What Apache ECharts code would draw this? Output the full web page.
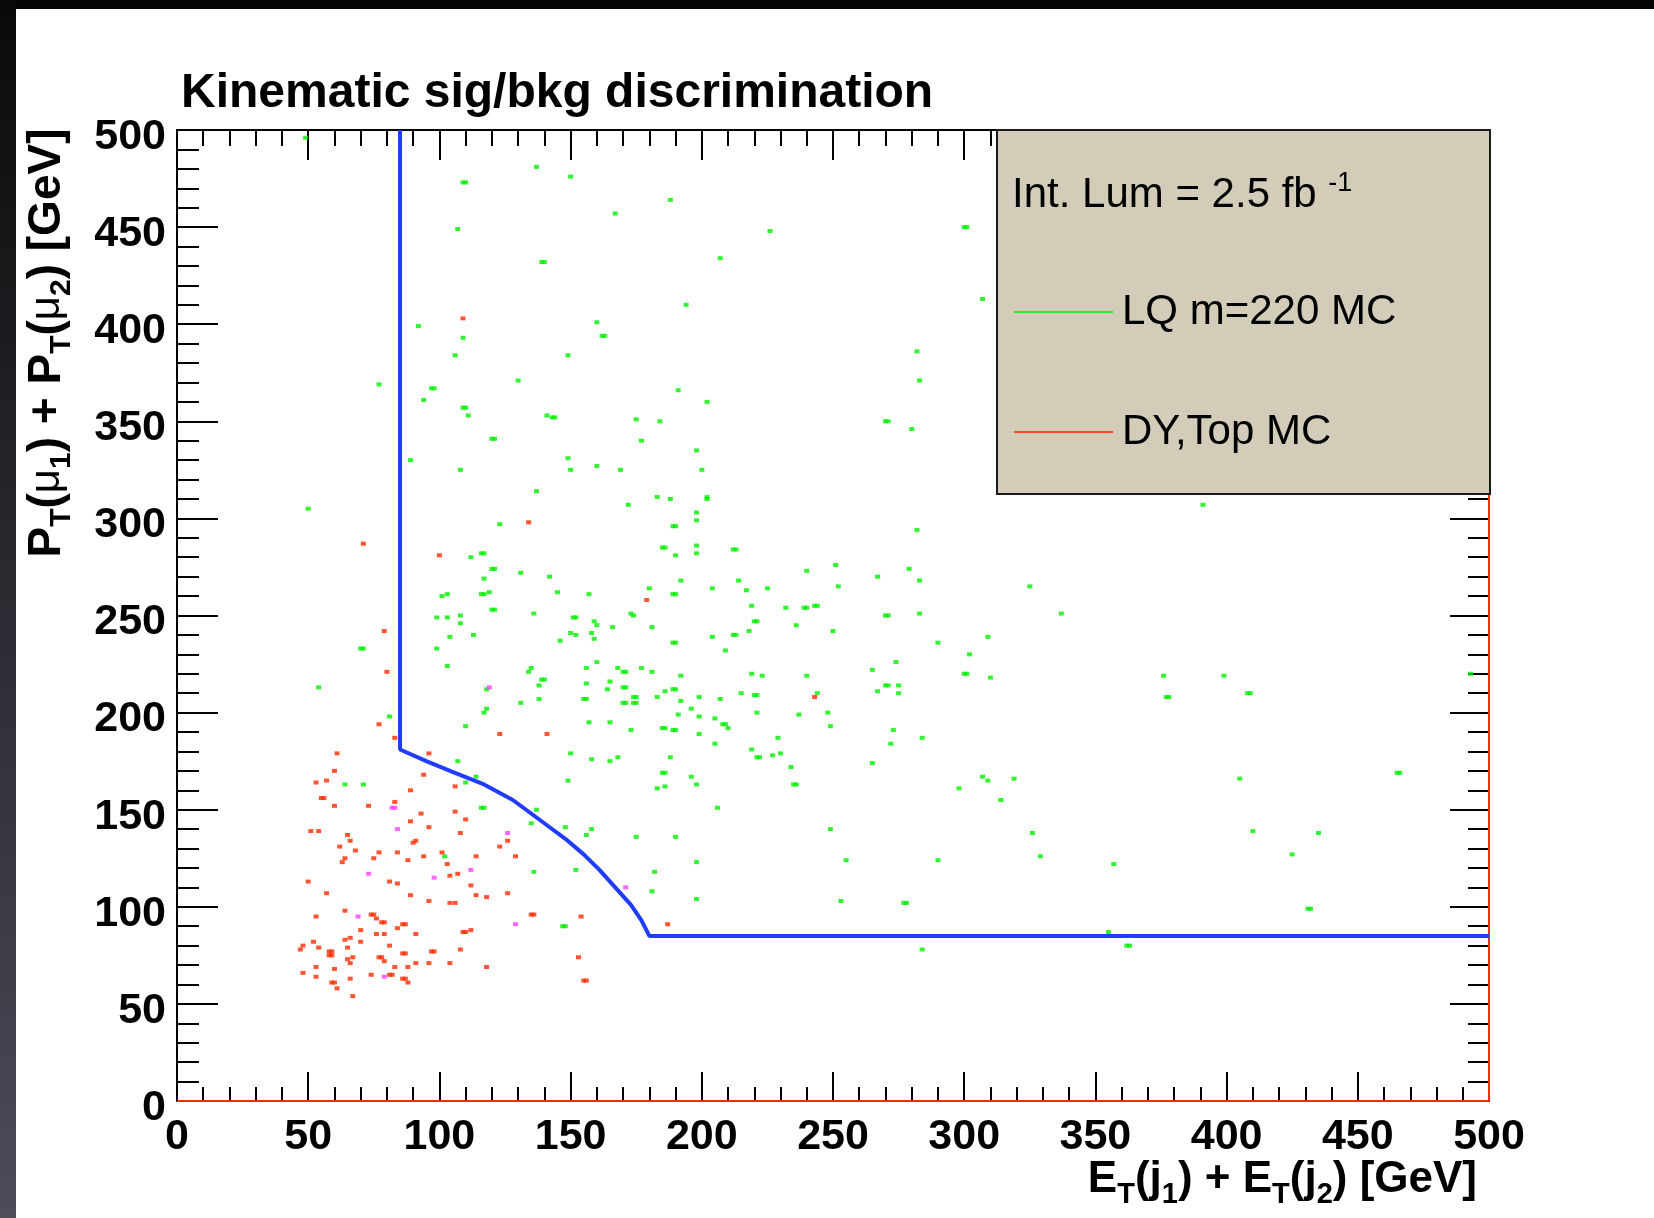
<!DOCTYPE html>
<html><head><meta charset="utf-8">
<script src="https://cdn.jsdelivr.net/npm/echarts@6/dist/echarts.min.js"></script>
<style>html,body{margin:0;padding:0;background:#fff;overflow:hidden}#c{width:1654px;height:1218px}</style>
</head><body><div id="c"></div><script>
const FONT = '"Liberation Sans", Arial, Helvetica, sans-serif';

// tick labels (both axes)
const xTicks = [0, 50, 100, 150, 200, 250, 300, 350, 400, 450, 500];
const yTicks = [0, 50, 100, 150, 200, 250, 300, 350, 400, 450, 500];

// Signal: LQ m=220 MC  [sum ET jets, sum PT muons]
const lqPoints = [
[49,496],[137,481],[150,476],[109,473],[110,473],[167,457],[107,449],[139,432],[140,432],[92,399],[109,393],[160,401],[162,394],[163,394],[106,384],[149,384],[77,369],[97,367],[98,367],[130,371],[94,361],[109,357],[110,357],[111,353],[141,353],[143,352],[144,352],[120,341],[121,341],
[188,464],[226,448],[300,450],[301,450],[207,434],[194,410],[307,413],[282,386],[283,371],[191,366],[202,360],[175,351],[184,350],[270,350],[271,350],[280,346],[177,340],[198,335],
[89,330],[108,325],[149,331],[150,325],[160,327],[137,314],[50,305],[123,297],[112,280],[116,282],[117,282],[120,274],[121,274],[131,272],[142,270],[117,269],[101,260],[103,261],[116,261],[117,261],[119,262],[145,262],[157,261],[120,253],[121,253],[136,251],[99,249],[103,249],[108,250],[108,246],[151,249],[152,249],[159,247],[160,245],[166,244],[104,239],[113,240],[150,241],[152,240],[158,241],[146,237],[159,238],[70,233],[71,233],[99,233],[160,226],[103,224],[135,223],[134,221],[156,223],[139,217],[140,217],[138,214],[156,215],[165,216],[164,212],[54,213],[118,212],[138,207],[131,205],[155,207],[156,207],[118,202],[117,200],[81,198],[110,193],[157,195],[165,195],[150,179],[107,175],[158,176],[165,175],[114,167],
[169,325],[200,325],[172,307],[183,311],[188,310],[202,310],[202,311],[198,303],[198,299],[189,296],[190,296],[185,285],[186,285],[198,286],[198,282],[190,281],[212,284],[213,284],[240,273],[251,276],[267,270],[279,274],[282,294],[283,268],[325,265],[192,268],[180,264],[189,261],[190,261],[204,264],[214,268],[217,263],[225,264],[252,265],[219,255],[232,254],[239,254],[240,254],[243,255],[244,255],[173,251],[174,250],[181,244],[220,247],[221,247],[218,242],[236,245],[250,242],[270,250],[271,250],[283,251],[204,239],[212,240],[213,240],[189,236],[190,236],[209,232],[290,236],[309,239],[302,230],[274,226],[265,222],[300,220],[301,220],[310,218],[168,223],[170,221],[171,221],[177,223],[181,221],[192,219],[219,220],[223,219],[240,219],[170,213],[171,213],[189,212],[190,212],[186,211],[174,208],[175,208],[183,208],[170,205],[171,205],[174,205],[175,205],[192,206],[199,208],[207,207],[215,210],[220,209],[221,209],[244,210],[267,211],[270,214],[271,214],[275,214],[275,210],[196,202],[191,199],[199,198],[205,197],[208,194],[209,194],[210,192],[221,200],[237,199],[248,200],[249,193],[173,191],[185,192],[186,192],[189,191],[190,191],[199,189],[205,184],[229,187],[273,191],[272,184],[284,187],[219,181],[221,177],[222,177],[227,178],[230,179],[234,172],[265,174],[168,177],[188,177],[185,169],[186,169],[196,167],[307,167],[319,166],
[391,307],[337,251],[376,219],[399,219],[377,208],[378,208],[408,210],[409,210],[465,169],[466,169],[405,166],[493,220],
[64,163],[71,163],[110,164],[149,165],[116,151],[117,151],[137,150],[135,143],[148,141],[158,140],[156,137],[102,126],[136,118],[152,119],[147,90],[148,90],
[183,161],[186,162],[198,163],[235,163],[236,163],[206,151],[298,161],[309,165],[314,155],[175,136],[190,136],[249,140],[326,138],[198,123],[255,124],[290,124],[329,126],[182,118],[181,108],[198,104],[253,103],[277,102],[278,102],[284,78],
[410,139],[435,138],[425,127],[357,122],[431,99],[432,99],[355,87],[362,80],[363,80]
];

// Background: DY,Top MC
const bkgPoints = [
[109,403],[134,298],[71,287],[100,281],[79,242],[80,221],[77,194],[83,187],[123,189],[141,189],[61,179],[96,179],[60,170],[94,168],[179,258],[243,208],
[53,164],[57,165],[55,156],[56,156],[89,160],[106,162],[60,152],[73,152],[83,154],[93,148],[106,149],[110,145],[89,144],[96,141],[51,139],[54,139],[108,138],[65,137],[66,134],[91,134],[90,133],[126,134],[62,131],[68,129],[123,131],[77,128],[84,128],[94,126],[101,128],[114,126],[129,126],[64,125],[63,123],[75,125],[88,124],[103,122],
[50,113],[81,113],[84,112],[104,116],[107,117],[112,111],[57,107],[89,106],[114,106],[118,105],[126,107],[96,103],[104,102],[106,102],
[53,95],[64,98],[74,96],[75,96],[76,94],[78,92],[79,92],[135,96],[136,96],[154,95],[86,91],[87,91],[84,89],[70,88],[112,88],[109,87],[110,87],[76,86],[79,86],[91,86],[66,84],[64,83],[70,82],[52,82],[48,80],[47,78],[54,79],[65,79],[81,80],[58,77],[59,77],[58,75],[59,75],[86,76],[87,76],[97,77],[98,77],[108,78],[77,74],[78,74],[67,74],[65,73],[79,72],[66,71],[91,71],[96,71],[104,71],[153,74],
[53,69],[83,69],[88,69],[118,69],[60,68],[48,66],[74,65],[81,65],[82,65],[53,64],[66,63],[86,63],[87,63],[155,62],[156,62],[59,61],[60,61],[88,61],[61,58],[67,54],
[187,91]
];

// events where both samples overlap (drawn magenta)
const overlapPoints = [
[119,213],[82,151],[83,151],[84,140],[126,138],[73,117],[98,115],[112,119],[69,95],[129,91],[79,64],[171,110]
];

// selection cut boundary
const cutCurve = [
[85,500],[85,181],[95,175],[105,169.5],[117,163],[128,155],[141,142],[148,135],[155,127],[161,119],[167,110],[173,101],[177,93],[180,85],[500,85]
];

// histogram frame drawn in red along bottom and right edges
const redFrame = [[0,0],[500,0],[500,500]];

const chart = echarts.init(document.getElementById('c'), null, {renderer:'canvas', width:1654, height:1218});

function xAx(pos, majLen, minLen, labels){
  return {
    type:'value', position:pos, min:xTicks[0], max:xTicks[xTicks.length-1], interval:xTicks[1]-xTicks[0],
    axisLine:{show:true, onZero:false, lineStyle:{color:'#000', width:2}},
    axisTick:{show:true, inside:true, length:majLen, lineStyle:{color:'#000', width:2}},
    minorTick:{show:true, splitNumber:5, length:minLen, lineStyle:{color:'#000', width:2}},
    splitLine:{show:false}, minorSplitLine:{show:false},
    axisLabel:{show:labels, fontSize:43, fontWeight:'bold', color:'#000', fontFamily:FONT, margin:15}
  };
}
function yAx(pos, majLen, minLen, labels){
  return {
    type:'value', position:pos, min:yTicks[0], max:yTicks[yTicks.length-1], interval:yTicks[1]-yTicks[0],
    axisLine:{show:true, onZero:false, lineStyle:{color:'#000', width:2}},
    axisTick:{show:true, inside:true, length:majLen, lineStyle:{color:'#000', width:2}},
    minorTick:{show:true, splitNumber:5, length:minLen, lineStyle:{color:'#000', width:2}},
    splitLine:{show:false}, minorSplitLine:{show:false},
    axisLabel:{show:labels, color:'#000', margin:11, verticalAlign:'middle',
      formatter:function(v){ return '{a|' + v + '}'; },
      rich:{a:{fontSize:43, fontWeight:'bold', color:'#000', fontFamily:FONT, lineHeight:43, padding:[14,0,0,0]}}}
  };
}

const B = {fontSize:46, fontWeight:'bold', fontFamily:FONT, color:'#000', lineHeight:60};
const S = {fontSize:30, fontWeight:'bold', fontFamily:FONT, color:'#000', lineHeight:31, verticalAlign:'bottom'};
const M = {fontSize:42, fontWeight:'normal', fontFamily:FONT, color:'#000', lineHeight:60};
const BX = {fontSize:44, fontWeight:'bold', fontFamily:FONT, color:'#000', lineHeight:58};
const SX = {fontSize:29, fontWeight:'bold', fontFamily:FONT, color:'#000', lineHeight:30, verticalAlign:'bottom'};

const option = {
  animation:false,
  backgroundColor:'#ffffff',
  grid:{left:177, right:165, top:130, bottom:117, outerBoundsMode:'none', containLabel:false},
  xAxis:[xAx('bottom', 29, 14, true), xAx('top', 30, 16, false)],
  yAxis:[yAx('left', 41, 22, true), yAx('right', 39, 21, false)],
  legend:{
    data:['LQ m=220 MC','DY,Top MC'], orient:'vertical', left:1009, top:282, itemGap:70,
    itemWidth:99, itemHeight:2, icon:'rect', selectedMode:false, z:20,
    textStyle:{fontSize:42, fontFamily:FONT, color:'#000', lineHeight:50, padding:[0,0,0,4]}
  },
  series:[
    {name:'LQ m=220 MC', type:'scatter', data:lqPoints, symbol:'rect', symbolSize:[5,4],
     itemStyle:{color:'#00f000'}, z:3, silent:true},
    {name:'DY,Top MC', type:'scatter', data:bkgPoints, symbol:'rect', symbolSize:[5,4],
     itemStyle:{color:'#ff2a00'}, z:3, silent:true},
    {name:'overlap', type:'scatter', data:overlapPoints, symbol:'rect', symbolSize:[5,4],
     itemStyle:{color:'#ff40ff'}, z:3, silent:true},
    {name:'frame', type:'line', data:redFrame, showSymbol:false, symbol:'none',
     lineStyle:{color:'#ff2a00', width:2}, z:4, silent:true},
    {name:'cut', type:'line', data:cutCurve, showSymbol:false, symbol:'none',
     lineStyle:{color:'#1f3cff', width:4}, z:5, silent:true}
  ],
  graphic:[
    {type:'rect', z:0, silent:true, shape:{x:0, y:0, width:1654, height:9}, style:{fill:'#050505'}},
    {type:'rect', z:0, silent:true, shape:{x:0, y:0, width:16, height:1218},
     style:{fill:new echarts.graphic.LinearGradient(0,0,0,1,[{offset:0,color:'#0a0a0a'},{offset:1,color:'#4c4c5a'}])}},
    {type:'rect', z:10, silent:true, shape:{x:997, y:130, width:493, height:364},
     style:{fill:'#d2ccb8', stroke:'#1a1a1a', lineWidth:2}},
    {type:'text', z:21, silent:true, x:1012, y:195,
     style:{text:'{n|Int. Lum = 2.5 fb }{p|-1}', verticalAlign:'middle', align:'left',
       rich:{n:{fontSize:42, fontFamily:FONT, color:'#000', lineHeight:50},
             p:{fontSize:27, fontFamily:FONT, color:'#000', lineHeight:30, verticalAlign:'top'}}}},
    {type:'text', z:21, silent:true, x:181, y:94,
     style:{text:'Kinematic sig/bkg discrimination', fontSize:48, fontWeight:'bold', fontFamily:FONT,
       fill:'#000', verticalAlign:'middle', align:'left'}},
    {type:'text', z:21, silent:true, x:1477, y:1180,
     style:{text:'{b|E}{s|T}{b|(j}{s|1}{b|) + E}{s|T}{b|(j}{s|2}{b|) [GeV]}', align:'right', verticalAlign:'middle',
       rich:{b:BX, s:SX}}},
    {type:'text', z:21, silent:true, x:47, y:343, rotation:Math.PI/2,
     style:{text:'{b|P}{s|T}{b|(}{m|μ}{s|1}{b|) + P}{s|T}{b|(}{m|μ}{s|2}{b|) [GeV]}', align:'center', verticalAlign:'middle',
       rich:{b:B, s:S, m:M}}}
  ]
};
chart.setOption(option);
</script></body></html>
